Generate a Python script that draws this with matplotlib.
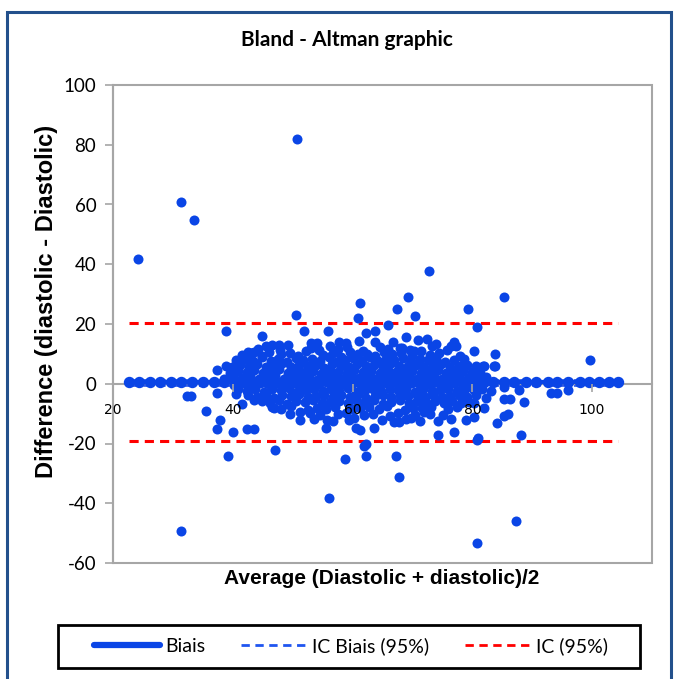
import matplotlib
matplotlib.use('Agg')
import matplotlib.pyplot as plt
from matplotlib.patches import Rectangle
from matplotlib.lines import Line2D

# ---------------- data ----------------
title = "Bland - Altman graphic"
x_title = "Average (Diastolic + diastolic)/2"
y_title = "Difference (diastolic - Diastolic)"
legend_labels = ["Biais", "IC Biais (95%)", "IC (95%)"]
x_ticks = [20, 40, 60, 80, 100]
y_ticks = [-60, -40, -20, 0, 20, 40, 60, 80, 100]

bias = 0.5
ic_bias_low, ic_bias_high = -0.4, 1.4
ic_low, ic_high = -19.0, 20.3

# markers of the bias series
bias_x = [22.6, 24.3, 26.1, 27.9, 29.7, 31.4, 33.2, 35.0, 36.8, 38.5, 40.3, 42.0,
          43.8, 45.5, 47.3, 49.0, 50.8, 52.5, 54.3, 56.0, 57.8, 59.5, 61.3, 63.0,
          64.8, 66.5, 68.3, 70.0, 71.8, 73.5, 75.3, 77.0, 78.8, 80.5, 82.0, 83.4,
          85.3, 87.0, 89.0, 90.6, 92.6, 94.2, 95.9, 97.9, 99.5, 101.2, 102.9, 104.3]

# isolated / edge points
edge_mean = [24.1, 31.4, 33.5, 50.8, 72.8, 85.3, 69.3, 61.3, 79.2, 67.4, 70.4, 60.9,
             50.5, 65.9, 80.7, 62.3, 63.8, 38.9, 44.9, 51.9, 55.9, 63.8, 68.9, 72.4,
             77.0, 57.8, 53.0, 54.1, 46.6, 47.7, 42.5, 43.5, 76.4, 77.2, 75.8, 80.3,
             83.8, 83.8, 81.7, 99.7, 67.9, 70.3, 71.4, 81.9, 83.6,
             38.9, 37.4, 37.4, 40.5, 41.5, 43.5, 32.4, 33.0, 35.5, 37.9, 37.4, 40.0,
             42.4, 43.5, 46.8, 51.3, 55.8, 55.5, 60.5, 59.4, 51.3, 71.9, 73.0,
             31.4, 39.2, 47.0, 56.0, 58.7, 62.3, 62.3, 67.3, 67.8, 80.8, 80.8, 87.3,
             61.9, 63.6, 66.9, 67.7, 69.7, 74.2, 74.2, 77.0, 80.9, 78.9, 80.3, 81.9,
             80.3, 82.3, 85.3, 86.3, 88.7, 85.9, 85.3, 84.2, 88.1, 87.8, 93.1, 94.2,
             95.9, 85.3, 61.3]
edge_diff = [41.8, 60.9, 54.8, 81.9, 37.9, 29.0, 29.0, 26.9, 24.9, 24.9, 22.8, 22.0,
             23.0, 19.8, 19.0, 16.9, 17.8, 17.8, 16.0, 17.8, 17.8, 14.0, 15.8, 14.9,
             14.0, 13.9, 13.8, 13.8, 13.0, 13.0, 10.6, 10.6, 12.5, 12.5, 11.4, 11.0,
             9.8, 5.9, 5.9, 8.0, 11.8, 10.9, 10.9, 5.8, 6.0,
             5.8, 4.7, -3.1, -3.3, -6.7, -5.4, -4.0, -4.0, -9.0, -12.3, -15.2, -16.1,
             -15.2, -15.2, -8.1, -12.0, -12.0, -14.8, -14.8, -12.0, -9.3, -5.4, -10.0,
             -49.2, -24.1, -22.1, -38.1, -25.1, -20.3, -24.1, -24.1, -31.1, -18.7, -53.2, -46.0,
             -21.0, -14.8, -12.8, -12.8, -11.5, -12.6, -17.1, -16.0, -18.2, -12.0, -11.2, -8.1,
             -6.5, -4.8, -5.1, -5.1, -6.2, -10.0, -10.9, -13.0, -17.1, -2.0, -3.2, -3.2,
             -2.2, -1.1, -15.4]

# dense core of the cloud
core_mean = [
    58.9, 61.0, 66.8, 70.9, 74.0,
    44.2, 45.6, 47.9, 49.3, 53.1, 54.4, 56.2, 57.5, 59.0, 61.8, 64.5, 65.9, 68.3, 69.6, 73.2,
    41.5, 43.0, 44.8, 46.1, 48.0, 49.6, 50.9, 52.3, 55.0, 56.7, 58.1, 59.6, 60.9, 62.4, 63.7,
    65.2, 66.6, 68.1, 70.0, 72.9, 74.5, 77.9,
    40.6, 42.0, 43.4, 44.9, 46.3, 47.6, 49.0, 50.5, 51.8, 53.2, 54.6, 56.0, 57.3, 58.7, 60.1,
    61.5, 62.9, 64.2, 65.6, 67.0, 68.4, 69.8, 71.2, 72.6, 74.0, 75.5, 77.0, 78.6,
    39.8, 41.2, 42.7, 44.0, 45.5, 46.9, 48.3, 49.7, 51.1, 52.5, 53.9, 55.3, 56.6, 58.0, 59.4,
    60.8, 62.2, 63.6, 65.0, 66.4, 67.8, 69.2, 70.6, 72.0, 73.4, 74.8, 76.2, 77.7, 79.1, 80.6,
    39.5, 40.9, 42.3, 43.6, 45.1, 46.5, 47.8, 49.2, 50.7, 52.0, 53.4, 54.8, 56.2, 57.6, 59.0,
    60.3, 61.7, 63.1, 64.5, 65.9, 67.3, 68.6, 70.0, 71.4, 72.8, 74.2, 75.6, 77.0, 78.5, 79.9, 81.3,
    38.6, 40.0, 41.5, 42.8, 44.3, 45.7, 47.1, 48.5, 49.9, 51.3, 52.7, 54.1, 55.5, 56.9, 58.3,
    59.7, 61.0, 62.4, 63.8, 65.2, 66.6, 68.0, 69.4, 70.8, 72.2, 73.6, 75.0, 76.4, 77.8, 79.3, 80.7, 82.2,
    40.2, 41.7, 43.1, 44.6, 46.0, 47.4, 48.8, 50.2, 51.6, 53.0, 54.4, 55.8, 57.2, 58.6, 60.0,
    61.4, 62.8, 64.2, 65.6, 67.0, 68.4, 69.8, 71.2, 72.6, 74.0, 75.4, 76.8, 78.2, 79.6, 81.0,
    40.8, 42.3, 43.7, 45.2, 46.6, 48.0, 49.4, 50.8, 52.2, 53.6, 55.0, 56.4, 57.8, 59.2, 60.6,
    62.0, 63.4, 64.8, 66.2, 67.6, 69.0, 70.4, 71.8, 73.2, 74.6, 76.0, 77.4, 78.8, 80.2, 81.6, 83.2,
    42.6, 44.1, 45.5, 46.9, 48.3, 49.7, 51.1, 52.5, 53.9, 55.3, 56.7, 58.1, 59.5, 60.9,
    62.3, 63.7, 65.1, 66.5, 67.9, 69.3, 70.7, 72.1, 73.5, 74.9, 76.3, 77.7, 79.1, 80.6,
    44.8, 46.2, 47.7, 49.1, 50.6, 52.0, 53.4, 54.9, 56.3, 57.8, 59.2, 60.7, 62.1,
    63.6, 65.0, 66.5, 67.9, 69.4, 70.8, 72.3, 73.7, 75.2, 76.6, 78.1, 79.5,
    46.5, 48.1, 49.8, 52.6, 54.0, 55.6, 57.0, 59.9, 61.3, 62.8, 64.4, 65.8, 68.7, 70.1, 71.6, 73.1, 75.9, 77.4,
    49.5, 52.9, 54.6, 57.5, 58.9, 61.9, 63.4, 66.2, 67.6, 70.5, 72.0, 75.1,
    53.5, 56.8, 60.2, 64.9, 68.9, 71.3, 76.5]
core_diff = [
    13.6, 14.3, 13.9, 14.5, 13.2,
    11.5, 12.6, 11.2, 12.9, 12.1, 11.4, 12.8, 11.7, 12.3, 11.1, 12.4, 11.6, 12.0, 11.3, 12.5,
    9.6, 10.4, 9.2, 10.7, 9.9, 10.2, 9.4, 10.8, 9.7, 10.3, 9.1, 10.6, 9.8, 10.1, 9.3,
    10.5, 9.9, 10.4, 9.5, 9.7, 10.2, 9.4,
    7.8, 8.4, 7.5, 8.9, 7.7, 8.2, 7.3, 8.6, 7.9, 8.3, 7.6, 8.8, 7.4, 8.1, 8.5,
    7.7, 8.9, 7.6, 8.2, 7.9, 8.7, 7.5, 8.3, 7.8, 8.6, 7.4, 8.0, 8.4,
    5.7, 6.3, 5.9, 6.6, 5.5, 6.1, 6.8, 5.6, 6.4, 5.8, 6.2, 5.4, 6.7, 6.0, 5.7,
    6.5, 5.9, 6.3, 5.6, 6.9, 6.1, 5.8, 6.4, 5.5, 6.2, 6.6, 5.7, 6.0, 6.3, 5.9,
    3.6, 4.3, 3.9, 4.6, 3.5, 4.1, 4.8, 3.7, 4.4, 3.8, 4.2, 3.4, 4.7, 4.0, 3.6,
    4.5, 3.9, 4.3, 3.5, 4.6, 4.1, 3.8, 4.4, 3.5, 4.2, 4.6, 3.7, 4.0, 4.3, 3.9, 3.6,
    1.7, 2.3, 1.9, 2.6, 1.5, 2.1, 2.8, 1.6, 2.4, 1.8, 2.2, 1.4, 2.7, 2.0, 1.6,
    2.5, 1.9, 2.3, 1.5, 2.6, 2.1, 1.8, 2.4, 1.5, 2.2, 2.6, 1.7, 2.0, 2.3, 1.9, 1.6, 2.2,
    -0.3, 0.4, -0.6, 0.2, -0.1, 0.6, -0.4, 0.1, -0.7, 0.3, -0.2, 0.5, -0.5, 0.0, 0.4,
    -0.3, 0.2, -0.6, 0.1, 0.5, -0.2, 0.3, -0.4, 0.0, 0.6, -0.5, 0.2, -0.1, 0.4, -0.3,
    -1.8, -2.4, -1.6, -2.7, -1.9, -2.2, -1.5, -2.6, -2.0, -1.7, -2.5, -1.8, -2.3, -1.5, -2.8,
    -2.0, -1.6, -2.4, -1.9, -2.2, -1.7, -2.6, -1.8, -2.3, -2.0, -1.6, -2.5, -1.9, -2.2, -1.7, -2.4,
    -3.8, -4.4, -3.6, -4.7, -3.9, -4.2, -3.5, -4.6, -4.0, -3.7, -4.5, -3.8, -4.3, -3.5,
    -4.8, -4.0, -3.6, -4.4, -3.9, -4.2, -3.7, -4.6, -3.8, -4.3, -4.0, -3.6, -4.5, -3.9,
    -5.8, -6.4, -5.6, -6.7, -5.9, -6.2, -5.5, -6.6, -6.0, -5.7, -6.5, -5.8, -6.3,
    -5.5, -6.8, -6.0, -5.6, -6.4, -5.9, -6.2, -5.7, -6.6, -5.8, -6.3, -6.0,
    -7.9, -8.5, -7.6, -8.8, -8.0, -8.3, -7.7, -8.6, -8.1, -7.8, -8.4, -7.5, -8.7, -8.0, -8.2, -7.7, -8.5, -7.9,
    -10.2, -9.8, -10.6, -10.1, -9.7, -10.4, -10.0, -10.7, -9.9, -10.3, -9.6, -10.5,
    -11.8, -12.4, -11.6, -12.2, -11.9, -12.5, -11.7]

# ---------------- style ----------------
dot_color = '#0a45e6'
grey = '#a6a6a6'
W, H = 675, 679

fig = plt.figure(figsize=(W / 100, H / 100), dpi=100)
ax = fig.add_axes([113 / W, 1 - 563 / H, (652 - 113) / W, (563 - 85) / H])

x_min, x_max = min(bias_x), max(bias_x)
for yv in (ic_high, ic_low):
    ax.plot([x_min, x_max], [yv, yv], color='#ff0000', lw=2.2, ls=(0, (3, 2)), zorder=2)
for yv in (ic_bias_high, ic_bias_low):
    ax.plot([x_min, x_max], [yv, yv], color='#3a62e8', lw=2.0, ls=(0, (3, 2)), zorder=2)
ax.plot(bias_x, [bias] * len(bias_x), color=dot_color, lw=3, marker='o', ms=7.2,
        mec=dot_color, mfc=dot_color, zorder=3)
ax.scatter(edge_mean, edge_diff, s=52, color=dot_color, linewidths=0, zorder=4)
ax.scatter(core_mean, core_diff, s=52, color=dot_color, linewidths=0, zorder=4)

ax.set_xlim(20, 110)
ax.set_ylim(-60, 100)
ax.set_xticks(x_ticks)
ax.set_yticks(y_ticks)
tick_font = dict(family='Lato', size=13.5)
ax.set_xticklabels([str(v) for v in x_ticks], **tick_font)
ax.set_yticklabels([str(v) for v in y_ticks], **tick_font)

for s in ('top', 'right'):
    ax.spines[s].set_visible(False)
ax.spines['bottom'].set_position(('data', 0))
for s in ('left', 'bottom'):
    ax.spines[s].set_color(grey)
    ax.spines[s].set_linewidth(1.5)
ax.tick_params(axis='both', direction='out', length=6, width=1.2, color=grey,
               labelcolor='black')
ax.tick_params(axis='x', pad=8)
ax.tick_params(axis='y', pad=6)
ax.xaxis.set_zorder(5)
ax.add_patch(Rectangle((0, 0), 1, 1, transform=ax.transAxes, fill=False,
                       edgecolor=grey, lw=1.5, clip_on=False, zorder=1))

# titles
fig.text(347 / W, 1 - 40 / H, title, ha='center', va='center', fontsize=15,
         fontweight='bold', family='Lato')
fig.text(382 / W, 1 - 578 / H, x_title, ha='center', va='center', fontsize=15,
         fontweight='bold', family='Liberation Sans')
fig.text(47 / W, 1 - 301 / H, y_title, ha='center', va='center', rotation=90,
         fontsize=17, fontweight='bold', family='Liberation Sans')

# legend (frame drawn separately)
handles = [Line2D([], [], color=dot_color, lw=4.5, solid_capstyle='round'),
           Line2D([], [], color='#1f55f0', lw=2, ls=(0, (3, 2))),
           Line2D([], [], color='#ff0000', lw=2, ls=(0, (3, 2)))]
fig.legend(handles, legend_labels, loc='center', bbox_to_anchor=(351 / W, 1 - 646 / H),
           ncol=3, frameon=False, handlelength=3.4, handletextpad=0.25,
           columnspacing=1.85, borderpad=0.3, borderaxespad=0,
           prop=dict(family='Lato', size=14))
fig.patches.append(Rectangle((58 / W, 1 - 668 / H), (640 - 58) / W, (668 - 625) / H,
                             transform=fig.transFigure, fill=False, edgecolor='black',
                             lw=2))

# figure frame
fig.patches.append(Rectangle((7 / W, -0.05), (671 - 7) / W, 1 + 0.05 - 12 / H,
                             transform=fig.transFigure, fill=False, edgecolor='#23508c',
                             lw=2.2))

fig.savefig('out.png', dpi=100)
